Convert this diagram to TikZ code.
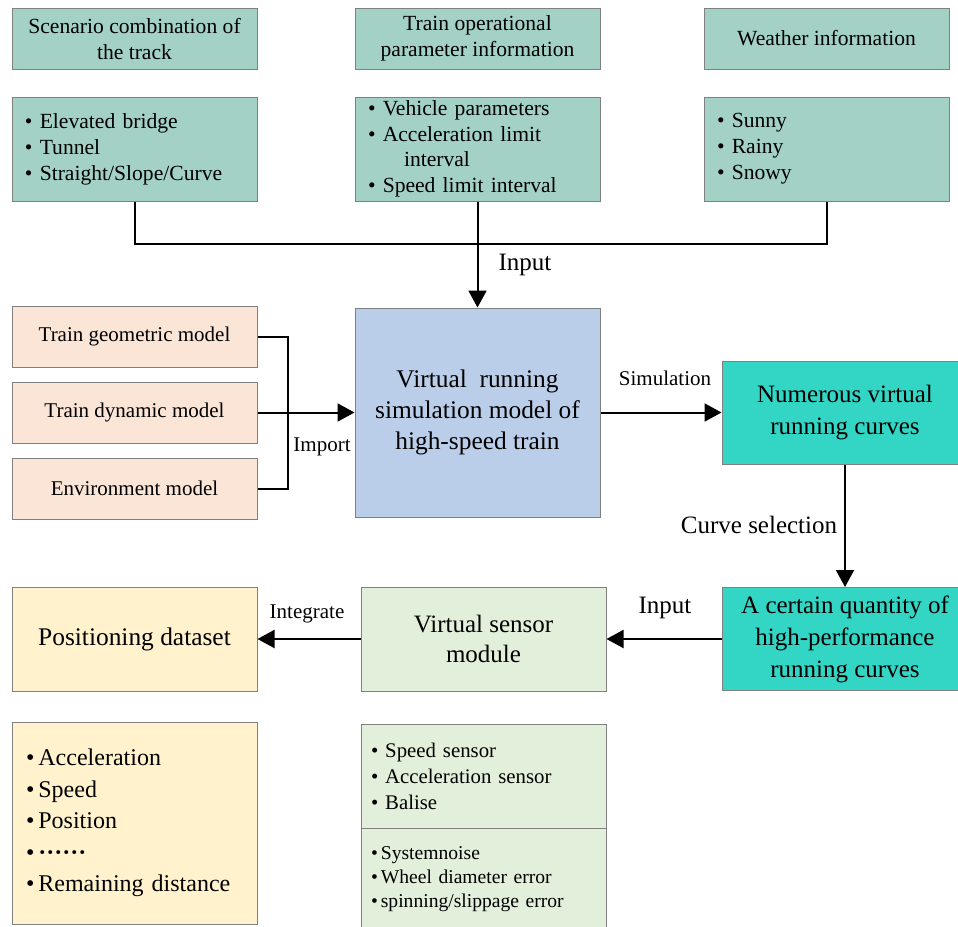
\documentclass[tikz,border=0pt]{standalone}
\usepackage{fontspec}
\setmainfont{Liberation Serif}
\usetikzlibrary{arrows.meta}

\definecolor{tealbox}{RGB}{163,209,198}
\definecolor{simblue}{RGB}{187,206,233}
\definecolor{mdlorange}{RGB}{251,229,214}
\definecolor{curveturq}{RGB}{51,214,197}
\definecolor{setyellow}{RGB}{255,242,204}
\definecolor{sensgreen}{RGB}{226,239,218}
\definecolor{edgegray}{RGB}{128,128,128}

\newcommand{\fs}[2]{\fontsize{#1}{#2}\selectfont}

\begin{document}
\begin{tikzpicture}[
    x=0.5pt, y=-0.5pt,
    base/.style={draw=edgegray, line width=0.5pt, inner sep=0pt, align=center},
    hdr/.style={base, fill=tealbox, minimum width=122.5pt, minimum height=30.5pt, font=\fs{10.8}{13}},
    lst/.style={base, fill=tealbox, minimum height=52pt, inner xsep=6.5pt, text width=109.5pt, align=left, font=\fs{10.8}{13}},
    mdl/.style={base, fill=mdlorange, minimum width=122.5pt, minimum height=30.5pt, font=\fs{10.5}{13}},
    simbox/.style={base, fill=simblue, minimum width=122.5pt, minimum height=104.5pt, font=\fs{12.7}{15.5}},
    crv/.style={base, fill=curveturq, minimum width=123pt, minimum height=51.5pt, font=\fs{12.5}{16}},
    sens/.style={base, fill=sensgreen, minimum width=122.5pt, minimum height=52pt, font=\fs{12.5}{15}},
    dset/.style={base, fill=setyellow, minimum width=122.5pt, minimum height=52pt, font=\fs{12.7}{15}},
    lbl/.style={inner sep=0pt, font=\fs{12.5}{15}},
    slbl/.style={inner sep=0pt, font=\fs{10.5}{13}},
    line/.style={line width=1pt},
    arr/.style={line width=1pt, -{Triangle[length=8.5pt,width=9pt]}}
  ]
    \useasboundingbox (0,0) rectangle (958,926);

    % input information
    \node[hdr] (scen) at (134.5,38.5) {Scenario combination of\\the track};
    \node[hdr] (opr) at (477.5,38.5) {Train operational\\parameter information};
    \node[hdr] (wea) at (826.5,38.5) {Weather information};

    \node[lst] (scenL) at (134.5,149) {\textbullet\ Elevated bridge\\\textbullet\ Tunnel\\\textbullet\ Straight/Slope/Curve};
    \node[lst, font=\fs{10.8}{12.8}] (oprL) at (477.5,149) {\textbullet\ Vehicle parameters\\\textbullet\ Acceleration limit\\\hspace*{18pt}interval\\\textbullet\ Speed limit interval};
    \node[lst] (weaL) at (826.5,149) {\textbullet\ Sunny\\\textbullet\ Rainy\\\textbullet\ Snowy};

    % models
    \node[mdl] (geo) at (134.5,336.5) {Train geometric model};
    \node[mdl] (dyn) at (134.5,412.5) {Train dynamic model};
    \node[mdl] (env) at (134.5,488.5) {Environment model};

    \node[simbox] (sim) at (477.5,412.5) {Virtual~ running\\simulation model of\\high-speed train};

    \node[crv] (num) at (845,412.5) {Numerous virtual\\running curves};
    \node[crv] (cert) at (845,639) {A certain quantity of\\high-performance\\running curves};

    \node[sens] (sensor) at (483.5,639) {Virtual sensor\\module};
    \node[dset] (dataset) at (134.5,639) {Positioning dataset};

    % lists at the bottom
    \node[dset, minimum height=101pt, inner xsep=7pt, text width=108.5pt, align=left, font=\fs{12}{15.8}] (datasetL) at (134.5,823)
      {\textbullet\hspace{2pt}Acceleration\\\textbullet\hspace{2pt}Speed\\\textbullet\hspace{2pt}Position\\\textbullet\hspace{2pt}\textbf{······}\\\textbullet\hspace{2pt}Remaining distance};
    \node[sens, inner xsep=5pt, text width=112.5pt, align=left, font=\fs{10.4}{13}] (sensA) at (483.5,776)
      {\textbullet\ Speed sensor\\\textbullet\ Acceleration sensor\\\textbullet\ Balise};
    \node[sens, minimum height=51pt, inner xsep=5pt, text width=112.5pt, align=left, font=\fs{9.8}{12}] (sensB) at (483.5,879)
      {\textbullet\hspace{1.5pt}Systemnoise\\\textbullet\hspace{1.5pt}Wheel diameter error\\\textbullet\hspace{1.5pt}spinning/slippage error};

    % connectors
    \coordinate (join) at (477.5,244);
    \draw[line] (scenL.south) |- (join) -| (weaL.south);
    \draw[arr] (oprL.south) -- (sim.north);
    \node[lbl] (inTop) at (525,265) {Input};

    \coordinate (brk) at (288,412.5);
    \draw[line] (geo.east) -| (brk) |- (env.east);
    \draw[arr] (dyn.east) -- (sim.west);
    \node[slbl] (imp) at (322,447) {Import};

    \draw[arr] (sim.east) -- (num.west);
    \node[slbl] (simu) at (665,378) {Simulation};

    \draw[arr] (num.south) -- (cert.north);
    \node[lbl] (csel) at (759,525) {Curve selection};

    \draw[arr] (cert.west) -- (sensor.east);
    \node[lbl] (inBot) at (665,608) {Input};

    \draw[arr] (sensor.west) -- (dataset.east);
    \node[slbl] (integ) at (307,614) {Integrate};
\end{tikzpicture}
\end{document}
